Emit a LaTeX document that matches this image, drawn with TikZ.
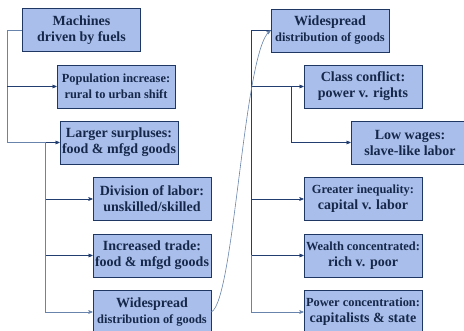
\documentclass[tikz,border=0pt]{standalone}
\usepackage{fontspec}
\setmainfont{Liberation Serif}[BoldFont={Liberation Serif Bold}]
\usetikzlibrary{arrows,positioning}

\definecolor{boxfill}{RGB}{169,190,234}
\definecolor{boxline}{RGB}{31,55,99}
\definecolor{inkcol}{RGB}{22,40,74}
\definecolor{linkcol}{RGB}{34,62,112}
\definecolor{palecol}{RGB}{104,132,172}
\newcommand{\bigln}{\fontsize{14}{16}\selectfont}
\newcommand{\smln}{\fontsize{12.4}{16}\selectfont}

\begin{document}
\begin{tikzpicture}
    [
      x=1pt, y=-1pt,
      stage/.style={draw=boxline,fill=boxfill,text=inkcol,font=\rmfamily\bfseries\bigln,align=center,
        minimum width=118pt,minimum height=43pt,inner sep=0pt,line width=0.8pt},
      link/.style={draw=linkcol,semithick},
      post/.style={->,>=stealth',semithick,draw=linkcol},
    ]
    \useasboundingbox (0,0) rectangle (464,331);

    % left column
    \node (machines) [stage] at (81.5,30) {Machines\\driven by fuels};
    \node (population) [stage] at (116,86.5) {{\smln Population increase:}\\{\smln rural to urban shift}};
    \node (surplus) [stage] at (119,142.5) {Larger surpluses:\\food \& mfgd goods};
    \node (division) [stage] at (152,199) {Division of labor:\\unskilled/skilled};
    \node (trade) [stage] at (152,255.5) {Increased trade:\\food \& mfgd goods};
    \node (widespread) [stage] at (152,312) {Widespread\\{\smln distribution of goods}};

    % right column
    \node (spread) [stage] at (330,30.5) {Widespread\\{\smln distribution of goods}};
    \node (conflict) [stage] at (363,86.5) {Class conflict:\\power v. rights};
    \node (wages) [stage] at (410,142.5) {Low wages:\\slave-like labor};
    \node (inequality) [stage] at (363,199) {{\smln Greater inequality:}\\capital v. labor};
    \node (wealth) [stage] at (363,255.5) {{\smln Wealth concentrated:}\\rich v. poor};
    \node (power) [stage] at (363,312) {{\smln Power concentration:}\\capitalists \& state};

    \coordinate (spine-a) at ([xshift=-15pt]machines.west);
    \coordinate (spine-b) at ([xshift=-14pt]surplus.west);
    \coordinate (spine-c) at ([xshift=-19pt]spread.west);
    \coordinate (spine-d) at ([xshift=-12pt]conflict.west);

    \draw [link,draw=palecol] (machines.west) -- (spine-a) |- (spine-b);
    \draw [post] (spine-a |- population.west) -- (population.west);
    \draw [post] (spine-b) -- (surplus.west);
    \draw [post,draw=palecol] (spine-b) |- (widespread.west);
    \draw [post] (spine-b |- division.west) -- (division.west);
    \draw [post] (spine-b |- trade.west) -- (trade.west);

    \draw [link] (spread.west) -- (spine-c) -- (spine-c |- wealth.west);
    \draw [post,draw=palecol] (spine-c |- wealth.west) |- (power.west);
    \draw [post] (spine-c |- conflict.west) -- (conflict.west);
    \draw [post] (spine-d) |- (wages.west);
    \draw [post] (spine-c |- inequality.west) -- (inequality.west);
    \draw [post] (spine-c |- wealth.west) -- (wealth.west);

    \draw [post,draw=palecol] (widespread.east) .. controls +(23,-12) and +(-27,20) .. (spread.west);

  \end{tikzpicture}
\end{document}
